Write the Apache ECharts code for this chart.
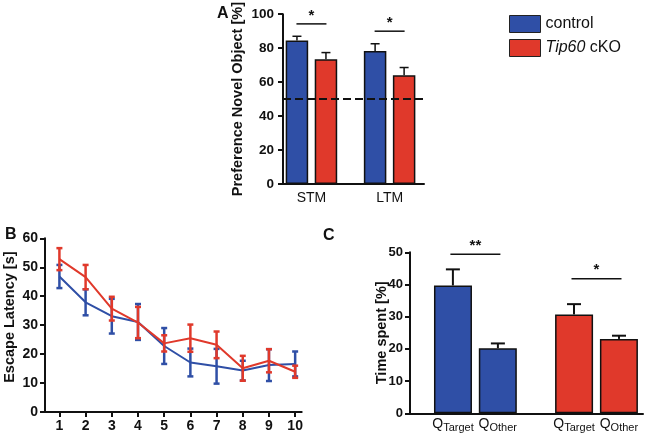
<!DOCTYPE html>
<html>
<head>
<meta charset="utf-8">
<script src="https://cdn.jsdelivr.net/npm/echarts@6/dist/echarts.min.js"></script>
<style>
html,body{margin:0;padding:0;background:#fff;}
#chart{width:659px;height:433px;}
</style>
</head>
<body>
<div id="chart"></div>
<script>
// ---------- DATA ----------
// Panel A: novel object preference
const catsA = ['STM', 'LTM'];
const controlA = [84.5, 78.3];
const controlAErr = [2.5, 4.3];
const koA = [73.5, 64.1];
const koAErr = [3.9, 4.5];
const chanceA = 50;
const sigAY = [94.3, 90];
const sigAText = ['*', '*'];

// Panel B: escape latency per day
const daysB = [1, 2, 3, 4, 5, 6, 7, 8, 9, 10];
const controlB = [46.8, 37.9, 33.1, 31.1, 22.8, 17.1, 15.8, 14.3, 16.2, 16.6];
const controlBErr = [4.0, 4.5, 6.0, 6.2, 6.2, 4.8, 6.0, 3.4, 5.5, 4.3];
const koB = [52.8, 46.6, 35.7, 30.9, 23.7, 25.5, 23.2, 15.1, 17.7, 13.9];
const koBErr = [3.8, 4.2, 4.1, 5.4, 2.8, 4.7, 4.6, 4.3, 4.0, 2.1];

// Panel C: time spent in quadrants
const quadC = ['Target', 'Other'];
const controlC = [39.7, 20.2];
const controlCErr = [5.0, 1.5];
const koC = [30.7, 23.1];
const koCErr = [3.2, 1.0];
const sigCY = [49.4, 41.8];
const sigCText = ['**', '*'];

const seriesNames = ['control', 'Tip60 cKO'];

// ---------- STYLE ----------
const BLUE = '#2f4fa6';
const RED = '#e0392b';
const INK = '#111';
const FONT = '"Liberation Sans", Arial, Helvetica, sans-serif';

const chart = echarts.init(document.getElementById('chart'), null, {renderer: 'canvas'});

function groupPos(arr) { return arr.map((_, i) => i + 1); }

function errRender(offsetPx, capW, color, lw, both) {
  return function (params, api) {
    const x = api.value(0), m = api.value(1), e = api.value(2);
    const pm = api.coord([x, m]);
    const pt = api.coord([x, m + e]);
    const pb = api.coord([x, both ? m - e : m]);
    const cx = pm[0] + offsetPx;
    const st = {stroke: color, lineWidth: lw};
    const children = [
      {type: 'line', shape: {x1: cx, y1: pb[1], x2: cx, y2: pt[1]}, style: st},
      {type: 'line', shape: {x1: cx - capW / 2, y1: pt[1], x2: cx + capW / 2, y2: pt[1]}, style: st}
    ];
    if (both) {
      children.push({type: 'line', shape: {x1: cx - capW / 2, y1: pb[1], x2: cx + capW / 2, y2: pb[1]}, style: st});
    }
    return {type: 'group', children: children};
  };
}

function sigRender(halfPx, texts) {
  return function (params, api) {
    const x = api.value(0), y = api.value(1);
    const p = api.coord([x, y]);
    return {
      type: 'group',
      children: [
        {type: 'line', shape: {x1: p[0] - halfPx, y1: p[1], x2: p[0] + halfPx, y2: p[1]},
         style: {stroke: INK, lineWidth: 1.5}},
        {type: 'text', style: {text: texts[params.dataIndex], x: p[0], y: p[1] - 1,
          align: 'center', verticalAlign: 'bottom', fontSize: 15, fontWeight: 'bold',
          fontFamily: FONT, fill: INK}}
      ]
    };
  };
}

const axisLineStyle = {show: true, lineStyle: {color: INK, width: 2}};
const tickStyle = {show: true, length: 5, lineStyle: {color: INK, width: 2}};

const posA = groupPos(catsA);
const posC = [1, 2];

const option = {
  animation: false,
  backgroundColor: '#fff',
  textStyle: {fontFamily: FONT},
  title: [
    {text: 'A', left: 212, top: 1, textStyle: {fontSize: 16, fontWeight: 'bold', color: INK, fontFamily: FONT}},
    {text: 'B', left: 0, top: 222, textStyle: {fontSize: 16, fontWeight: 'bold', color: INK, fontFamily: FONT}},
    {text: 'C', left: 318, top: 223, textStyle: {fontSize: 16, fontWeight: 'bold', color: INK, fontFamily: FONT}}
  ],
  legend: {
    data: seriesNames,
    orient: 'vertical',
    left: 504, top: 10,
    itemWidth: 31, itemHeight: 17, itemGap: 6,
    icon: 'rect',
    itemStyle: {borderColor: '#222', borderWidth: 1},
    textStyle: {fontSize: 16, color: INK, fontFamily: FONT,
      rich: {i: {fontSize: 16, fontStyle: 'italic', color: INK, fontFamily: FONT}}},
    formatter: function (name) {
      if (name === 'Tip60 cKO') return '{i|Tip60} cKO';
      return name;
    }
  },
  grid: [
    {left: 283, top: 12.7, width: 141, height: 171.3},
    {left: 45, top: 238.3, width: 256.7, height: 175},
    {left: 410, top: 252.3, width: 233, height: 161}
  ],
  xAxis: [
    {gridIndex: 0, type: 'value', min: 0.636, max: 2.44,
      axisLine: axisLineStyle, axisTick: {show: false}, splitLine: {show: false},
      axisLabel: {customValues: posA, formatter: v => catsA[Math.round(v) - 1] || '',
        fontSize: 14, color: INK, margin: 7, fontFamily: FONT}},
    {gridIndex: 1, type: 'value', min: 0.45, max: 10.25,
      axisLine: axisLineStyle, splitLine: {show: false},
      axisTick: Object.assign({customValues: daysB}, tickStyle),
      axisLabel: {customValues: daysB, fontSize: 14, fontWeight: 'bold', color: INK, margin: 7, fontFamily: FONT}},
    {gridIndex: 2, type: 'value', min: 0.46, max: 2.384,
      axisLine: axisLineStyle, axisTick: {show: false}, splitLine: {show: false},
      axisLabel: {show: false}}
  ],
  yAxis: [
    {gridIndex: 0, type: 'value', min: 0, max: 100, interval: 20,
      axisLine: axisLineStyle, axisTick: tickStyle, splitLine: {show: false},
      axisLabel: {fontSize: 13.5, fontWeight: 'bold', color: INK, margin: 9, fontFamily: FONT},
      name: 'Preference Novel Object [%]', nameLocation: 'middle', nameGap: 38, nameMoveOverlap: false,
      nameTextStyle: {fontSize: 14.5, fontWeight: 'bold', color: INK, fontFamily: FONT}},
    {gridIndex: 1, type: 'value', min: 0, max: 60, interval: 10,
      axisLine: axisLineStyle, axisTick: tickStyle, splitLine: {show: false},
      axisLabel: {fontSize: 14, fontWeight: 'bold', color: INK, margin: 7, fontFamily: FONT},
      name: 'Escape Latency [s]', nameLocation: 'middle', nameGap: 28, nameMoveOverlap: false,
      nameTextStyle: {fontSize: 14.5, fontWeight: 'bold', color: INK, fontFamily: FONT, padding: [0, 0, 0, 16]}},
    {gridIndex: 2, type: 'value', min: 0, max: 50, interval: 10,
      axisLine: axisLineStyle, axisTick: tickStyle, splitLine: {show: false},
      axisLabel: {fontSize: 13, fontWeight: 'bold', color: INK, margin: 7, fontFamily: FONT},
      name: 'Time spent [%]', nameLocation: 'middle', nameGap: 21, nameMoveOverlap: false,
      nameTextStyle: {fontSize: 14.5, fontWeight: 'bold', color: INK, fontFamily: FONT}}
  ],
  series: [
    // ----- Panel A -----
    {name: seriesNames[0], type: 'bar', xAxisIndex: 0, yAxisIndex: 0,
      data: posA.map((x, i) => [x, controlA[i]]),
      barWidth: 22.5, barGap: '29%',
      itemStyle: {color: BLUE, borderColor: INK, borderWidth: 1.5},
      markLine: {silent: true, symbol: 'none', label: {show: false},
        lineStyle: {color: INK, type: [8, 4], width: 2},
        data: [{yAxis: chanceA}]}},
    {name: seriesNames[1], type: 'bar', xAxisIndex: 0, yAxisIndex: 0,
      data: posA.map((x, i) => [x, koA[i]]),
      barWidth: 22.5, barGap: '29%',
      itemStyle: {color: RED, borderColor: INK, borderWidth: 1.5}},
    {name: 'errA0', type: 'custom', xAxisIndex: 0, yAxisIndex: 0, z: 1,
      encode: {x: 0, y: 1},
      data: posA.map((x, i) => [x, controlA[i], controlAErr[i]]),
      renderItem: errRender(-14.5, 9, INK, 1.5, false)},
    {name: 'errA1', type: 'custom', xAxisIndex: 0, yAxisIndex: 0, z: 1,
      encode: {x: 0, y: 1},
      data: posA.map((x, i) => [x, koA[i], koAErr[i]]),
      renderItem: errRender(14.5, 9, INK, 1.5, false)},
    {name: 'sigA', type: 'custom', xAxisIndex: 0, yAxisIndex: 0,
      encode: {x: 0, y: 1},
      data: posA.map((x, i) => [x, sigAY[i]]),
      renderItem: sigRender(15, sigAText)},

    // ----- Panel B -----
    {name: 'errB0', type: 'custom', xAxisIndex: 1, yAxisIndex: 1, z: 2,
      encode: {x: 0, y: 1},
      data: daysB.map((d, i) => [d, controlB[i], controlBErr[i]]),
      renderItem: errRender(0, 6, BLUE, 2.5, true)},
    {name: seriesNames[0], type: 'line', xAxisIndex: 1, yAxisIndex: 1, z: 3,
      data: daysB.map((d, i) => [d, controlB[i]]),
      showSymbol: false, color: BLUE, lineStyle: {color: BLUE, width: 2}},
    {name: 'errB1', type: 'custom', xAxisIndex: 1, yAxisIndex: 1, z: 4,
      encode: {x: 0, y: 1},
      data: daysB.map((d, i) => [d, koB[i], koBErr[i]]),
      renderItem: errRender(0, 6, RED, 2.5, true)},
    {name: seriesNames[1], type: 'line', xAxisIndex: 1, yAxisIndex: 1, z: 5,
      data: daysB.map((d, i) => [d, koB[i]]),
      showSymbol: false, color: RED, lineStyle: {color: RED, width: 2}},

    // ----- Panel C -----
    {name: quadC[0], type: 'bar', xAxisIndex: 2, yAxisIndex: 2,
      barWidth: 38, barGap: '18%',
      data: [
        {value: [posC[0], controlC[0]], itemStyle: {color: BLUE}},
        {value: [posC[1], koC[0]], itemStyle: {color: RED}}
      ],
      itemStyle: {borderColor: INK, borderWidth: 1.5},
      label: {show: true, position: 'bottom', distance: 1, formatter: '{q|Q}{s|' + quadC[0] + '}',
        rich: {q: {fontSize: 14, color: INK, fontFamily: FONT},
               s: {fontSize: 11, color: INK, fontFamily: FONT, padding: [8, 0, 0, 0]}}}},
    {name: quadC[1], type: 'bar', xAxisIndex: 2, yAxisIndex: 2,
      barWidth: 38, barGap: '18%',
      data: [
        {value: [posC[0], controlC[1]], itemStyle: {color: BLUE}},
        {value: [posC[1], koC[1]], itemStyle: {color: RED}}
      ],
      itemStyle: {borderColor: INK, borderWidth: 1.5},
      label: {show: true, position: 'bottom', distance: 1, formatter: '{q|Q}{s|' + quadC[1] + '}',
        rich: {q: {fontSize: 14, color: INK, fontFamily: FONT},
               s: {fontSize: 11, color: INK, fontFamily: FONT, padding: [8, 0, 0, 0]}}}},
    {name: 'errC0', type: 'custom', xAxisIndex: 2, yAxisIndex: 2, z: 1,
      encode: {x: 0, y: 1},
      data: posC.map((x, i) => [x, i === 0 ? controlC[0] : koC[0], i === 0 ? controlCErr[0] : koCErr[0]]),
      renderItem: errRender(-22.5, 14, INK, 2, false)},
    {name: 'errC1', type: 'custom', xAxisIndex: 2, yAxisIndex: 2, z: 1,
      encode: {x: 0, y: 1},
      data: posC.map((x, i) => [x, i === 0 ? controlC[1] : koC[1], i === 0 ? controlCErr[1] : koCErr[1]]),
      renderItem: errRender(22.5, 14, INK, 2, false)},
    {name: 'sigC', type: 'custom', xAxisIndex: 2, yAxisIndex: 2,
      encode: {x: 0, y: 1},
      data: posC.map((x, i) => [x, sigCY[i]]),
      renderItem: sigRender(25, sigCText)}
  ]
};

chart.setOption(option);
</script>
</body>
</html>
